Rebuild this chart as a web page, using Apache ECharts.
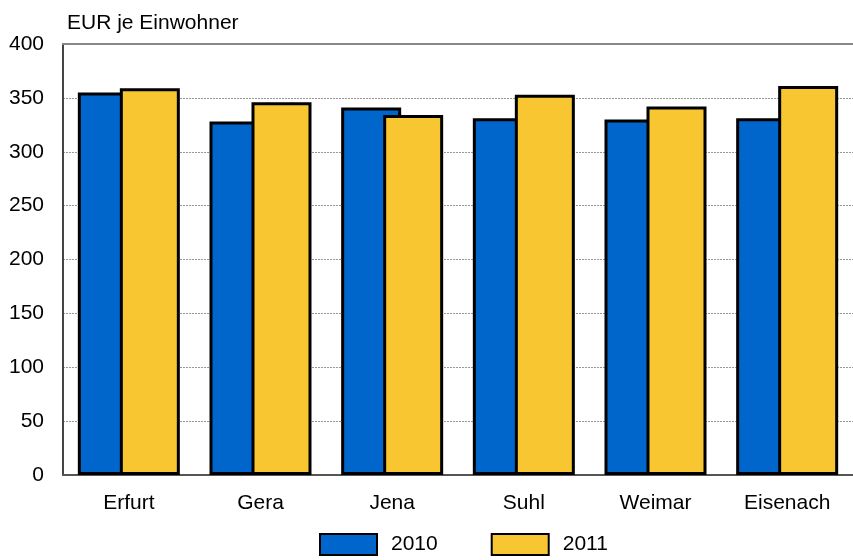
<!DOCTYPE html>
<html><head><meta charset="utf-8">
<script src="https://cdn.jsdelivr.net/npm/echarts@6/dist/echarts.min.js"></script>
<style>html,body{margin:0;padding:0;background:#fff}#c{width:853px;height:560px}</style>
</head><body><div id="c"></div>
<script>
const categories = ["Erfurt", "Gera", "Jena", "Suhl", "Weimar", "Eisenach"];
const values2010 = [355, 328, 341, 331, 330, 331];
const values2011 = [359, 346, 334, 353, 342, 361];
const seriesNames = ["2010", "2011"];
const yTicks = {min: 0, max: 400, interval: 50};
const unitLabel = "EUR je Einwohner";

const font = "Liberation Sans, Arial, sans-serif";
const chart = echarts.init(document.getElementById('c'), null, {renderer: 'canvas'});
chart.setOption({
  animation: false,
  backgroundColor: '#fff',
  textStyle: {fontFamily: font},
  title: {text: unitLabel, left: 62, top: 8, textStyle: {fontFamily: font, fontSize: 21, fontWeight: 'normal', color: '#000'}},
  grid: {left: 63, right: 0, top: 44, bottom: 85},
  legend: {
    top: 528, left: 314, itemWidth: 57, itemHeight: 21, itemGap: 53, icon: 'rect',
    textStyle: {fontFamily: font, fontSize: 21, color: '#000', padding: [0, 0, 0, 9]},
    data: seriesNames
  },
  xAxis: [{
    type: 'category', data: categories,
    axisLine: {lineStyle: {color: '#555', width: 2}},
    axisTick: {show: false},
    axisLabel: {fontFamily: font, fontSize: 21, color: '#000', margin: 18}
  }, {
    type: 'category', data: categories, position: 'top',
    axisLine: {show: true, lineStyle: {color: '#888', width: 2}},
    axisTick: {show: false}, axisLabel: {show: false}
  }],
  yAxis: {
    type: 'value', min: yTicks.min, max: yTicks.max, interval: yTicks.interval,
    axisLine: {show: true, lineStyle: {color: '#444', width: 2}},
    axisTick: {show: false},
    axisLabel: {fontFamily: font, fontSize: 21, color: '#000', margin: 19},
    splitLine: {lineStyle: {color: '#999', type: [2, 1], width: 1}}
  },
  series: [{
    name: seriesNames[0], type: 'bar', data: values2010, barWidth: 60, barGap: '-30%',
    itemStyle: {color: '#0066CC', borderColor: '#000', borderWidth: 3}
  }, {
    name: seriesNames[1], type: 'bar', data: values2011, barWidth: 60, barGap: '-30%',
    itemStyle: {color: '#F8C630', borderColor: '#000', borderWidth: 3}
  }]
});
</script></body></html>
